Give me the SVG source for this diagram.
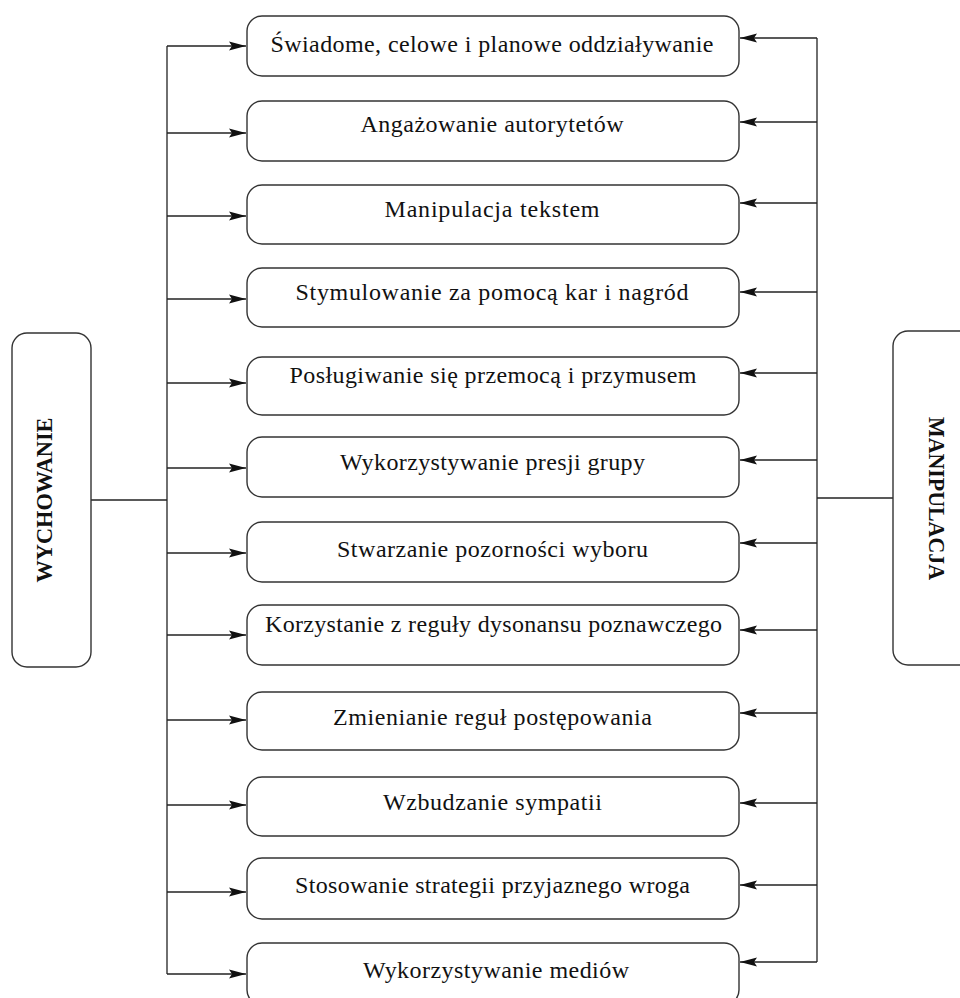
<svg xmlns="http://www.w3.org/2000/svg" width="960" height="998" viewBox="0 0 960 998">
<defs>
<style>
.box{fill:#fff;stroke:#333;stroke-width:1.4}
.ln{fill:none;stroke:#222;stroke-width:1.3}
.t{font-family:"Liberation Serif","Times New Roman",serif;font-size:24px;fill:#111;text-anchor:middle}
.h{font-family:"Liberation Serif","Times New Roman",serif;font-size:24px;font-weight:bold;fill:#111;text-anchor:middle}
</style>
<marker id="ah" markerUnits="userSpaceOnUse" markerWidth="17" markerHeight="10" refX="17" refY="5" orient="auto">
<path d="M0,0.5 L17,5 L0,9.5 L3,5 z" fill="#111"/>
</marker>
</defs>
<rect width="960" height="998" fill="#fff"/>

<g id="connectors">
<line class="ln" x1="167" y1="46" x2="167" y2="974"/>
<line class="ln" x1="91" y1="500" x2="167" y2="500"/>
<line class="ln" x1="817" y1="38" x2="817" y2="962"/>
<line class="ln" x1="817" y1="498" x2="893" y2="498"/>
<g marker-end="url(#ah)">
<line class="ln" x1="167" y1="46" x2="246" y2="46"/>
<line class="ln" x1="167" y1="133" x2="246" y2="133"/>
<line class="ln" x1="167" y1="216" x2="246" y2="216"/>
<line class="ln" x1="167" y1="299" x2="246" y2="299"/>
<line class="ln" x1="167" y1="383" x2="246" y2="383"/>
<line class="ln" x1="167" y1="468" x2="246" y2="468"/>
<line class="ln" x1="167" y1="553" x2="246" y2="553"/>
<line class="ln" x1="167" y1="635" x2="246" y2="635"/>
<line class="ln" x1="167" y1="720" x2="246" y2="720"/>
<line class="ln" x1="167" y1="805" x2="246" y2="805"/>
<line class="ln" x1="167" y1="892" x2="246" y2="892"/>
<line class="ln" x1="167" y1="974" x2="246" y2="974"/>
<line class="ln" x1="817" y1="38" x2="740" y2="38"/>
<line class="ln" x1="817" y1="122" x2="740" y2="122"/>
<line class="ln" x1="817" y1="203" x2="740" y2="203"/>
<line class="ln" x1="817" y1="292" x2="740" y2="292"/>
<line class="ln" x1="817" y1="373" x2="740" y2="373"/>
<line class="ln" x1="817" y1="460" x2="740" y2="460"/>
<line class="ln" x1="817" y1="543" x2="740" y2="543"/>
<line class="ln" x1="817" y1="630" x2="740" y2="630"/>
<line class="ln" x1="817" y1="713" x2="740" y2="713"/>
<line class="ln" x1="817" y1="803" x2="740" y2="803"/>
<line class="ln" x1="817" y1="885" x2="740" y2="885"/>
<line class="ln" x1="817" y1="962" x2="740" y2="962"/>
</g>
</g>

<g id="wychowanie">
<rect class="box" x="12" y="333" width="79" height="334" rx="15"/>
<text class="h" transform="translate(52,500) rotate(-90)" textLength="165" lengthAdjust="spacingAndGlyphs">WYCHOWANIE</text>
</g>

<g id="manipulacja">
<rect class="box" x="893" y="331" width="90" height="334" rx="15"/>
<text class="h" transform="translate(929,498.5) rotate(90)" textLength="163" lengthAdjust="spacingAndGlyphs">MANIPULACJA</text>
</g>

<g id="n1"><rect class="box" x="247" y="16" width="492" height="60" rx="15"/>
<text class="t" x="492" y="52" textLength="443">Świadome, celowe i planowe oddziaływanie</text></g>
<g id="n2"><rect class="box" x="247" y="101" width="492" height="60" rx="15"/>
<text class="t" x="492" y="132" textLength="263">Angażowanie autorytetów</text></g>
<g id="n3"><rect class="box" x="247" y="185" width="492" height="59" rx="15"/>
<text class="t" x="492" y="217" textLength="215">Manipulacja tekstem</text></g>
<g id="n4"><rect class="box" x="247" y="268" width="492" height="59" rx="15"/>
<text class="t" x="492" y="300" textLength="393">Stymulowanie za pomocą kar i nagród</text></g>
<g id="n5"><rect class="box" x="247" y="357" width="492" height="58" rx="15"/>
<text class="t" x="493" y="383" textLength="407">Posługiwanie się przemocą i przymusem</text></g>
<g id="n6"><rect class="box" x="247" y="437" width="492" height="60" rx="15"/>
<text class="t" x="492.5" y="470" textLength="305">Wykorzystywanie presji grupy</text></g>
<g id="n7"><rect class="box" x="247" y="522" width="492" height="60" rx="15"/>
<text class="t" x="492.5" y="557" textLength="311">Stwarzanie pozorności wyboru</text></g>
<g id="n8"><rect class="box" x="247" y="605" width="492" height="60" rx="15"/>
<text class="t" x="493.5" y="632" textLength="457">Korzystanie z reguły dysonansu poznawczego</text></g>
<g id="n9"><rect class="box" x="247" y="692" width="492" height="58" rx="15"/>
<text class="t" x="492.5" y="725" textLength="319">Zmienianie reguł postępowania</text></g>
<g id="n10"><rect class="box" x="247" y="777" width="492" height="59" rx="15"/>
<text class="t" x="492.5" y="810" textLength="219">Wzbudzanie sympatii</text></g>
<g id="n11"><rect class="box" x="247" y="858" width="492" height="61" rx="15"/>
<text class="t" x="492.5" y="893" textLength="395">Stosowanie strategii przyjaznego wroga</text></g>
<g id="n12"><rect class="box" x="247" y="943" width="492" height="62" rx="15"/>
<text class="t" x="496" y="978" textLength="266">Wykorzystywanie mediów</text></g>
</svg>
